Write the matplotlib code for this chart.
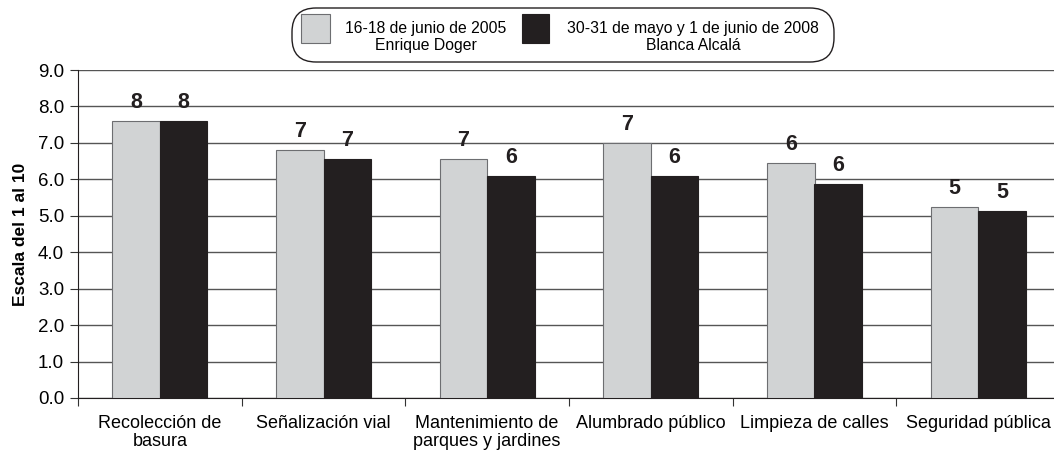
import matplotlib
matplotlib.use("Agg")
from matplotlib import pyplot as plt
from matplotlib.patches import FancyBboxPatch, Rectangle
import numpy as np

categories = ["Recolección de\nbasura", "Señalización vial", "Mantenimiento de\nparques y jardines",
              "Alumbrado público", "Limpieza de calles", "Seguridad pública"]
serie_2005 = [7.6, 6.8, 6.56, 7.0, 6.44, 5.24]
serie_2008 = [7.6, 6.56, 6.09, 6.09, 5.87, 5.12]
etiquetas_2005 = ["8", "7", "7", "7", "6", "5"]
etiquetas_2008 = ["8", "7", "6", "6", "6", "5"]
leyenda = ["16-18 de junio de 2005\nEnrique Doger", "30-31 de mayo y 1 de junio de 2008\nBlanca Alcalá"]
yticks = np.arange(0, 10, 1.0)

gris = "#d1d3d4"
negro = "#231f20"

plt.rcParams["font.family"] = ["Liberation Sans", "DejaVu Sans"]

fig = plt.figure(figsize=(10.54, 4.54), dpi=100)
ax = fig.add_axes([78 / 1054, 56 / 454, 982 / 1054, 328 / 454])

x = np.arange(len(categories))
w = 0.29
b1 = ax.bar(x - w / 2, serie_2005, w, color=gris, edgecolor="#6d6e71", linewidth=0.8, zorder=3)
b2 = ax.bar(x + w / 2, serie_2008, w, color=negro, edgecolor=negro, linewidth=0.8, zorder=3)

for bars, labels in ((b1, etiquetas_2005), (b2, etiquetas_2008)):
    for bar, lab in zip(bars, labels):
        ax.annotate(lab, (bar.get_x() + bar.get_width() / 2, bar.get_height()),
                    xytext=(0, 6), textcoords="offset points", ha="center", va="bottom",
                    fontsize=15.5, fontweight="bold", color=negro)

ax.set_xlim(-0.5, len(categories) - 0.5)
ax.set_ylim(0, 9)
ax.set_yticks(yticks)
ax.set_yticklabels([f"{v:.1f}" for v in yticks], fontsize=13.5)
ax.yaxis.grid(True, color="#555555", linewidth=1, zorder=0)
ax.set_axisbelow(True)

ax.set_xticks(np.arange(-0.5, len(categories), 1.0))
ax.set_xticklabels([])
ax.set_xticks(x, minor=True)
ax.set_xticklabels(categories, minor=True, fontsize=13, linespacing=1.1)
ax.tick_params(axis="x", which="minor", length=0, pad=12)
ax.tick_params(axis="x", which="major", length=6, color="#333333")
ax.tick_params(axis="y", length=6, color="#333333", pad=4)

for s in ("top", "right"):
    ax.spines[s].set_visible(False)
ax.spines["left"].set_color("#231f20")
ax.spines["bottom"].set_color("#231f20")

ax.set_ylabel("Escala del 1 al 10", fontsize=12.5, fontweight="bold", labelpad=7)

# leyenda dibujada a mano (caja redondeada)
box = FancyBboxPatch((2.92, 3.92), 5.42, 0.54, boxstyle="round,pad=0,rounding_size=0.24",
                     transform=fig.dpi_scale_trans, facecolor="white", edgecolor="#231f20",
                     linewidth=1.0)
fig.patches.append(box)
fig.patches.append(Rectangle((3.01, 4.113), 0.29, 0.287, transform=fig.dpi_scale_trans,
                             facecolor=gris, edgecolor="#6d6e71", linewidth=0.8))
fig.patches.append(Rectangle((5.22, 4.113), 0.27, 0.287, transform=fig.dpi_scale_trans,
                             facecolor=negro, edgecolor=negro, linewidth=0.8))
fig.text(4.26, 4.17, leyenda[0], transform=fig.dpi_scale_trans, ha="center", va="center",
         fontsize=11.3, multialignment="center", linespacing=1.2)
fig.text(6.93, 4.17, leyenda[1], transform=fig.dpi_scale_trans, ha="center", va="center",
         fontsize=11.3, multialignment="center", linespacing=1.2)

fig.savefig("out.png", dpi=100)
